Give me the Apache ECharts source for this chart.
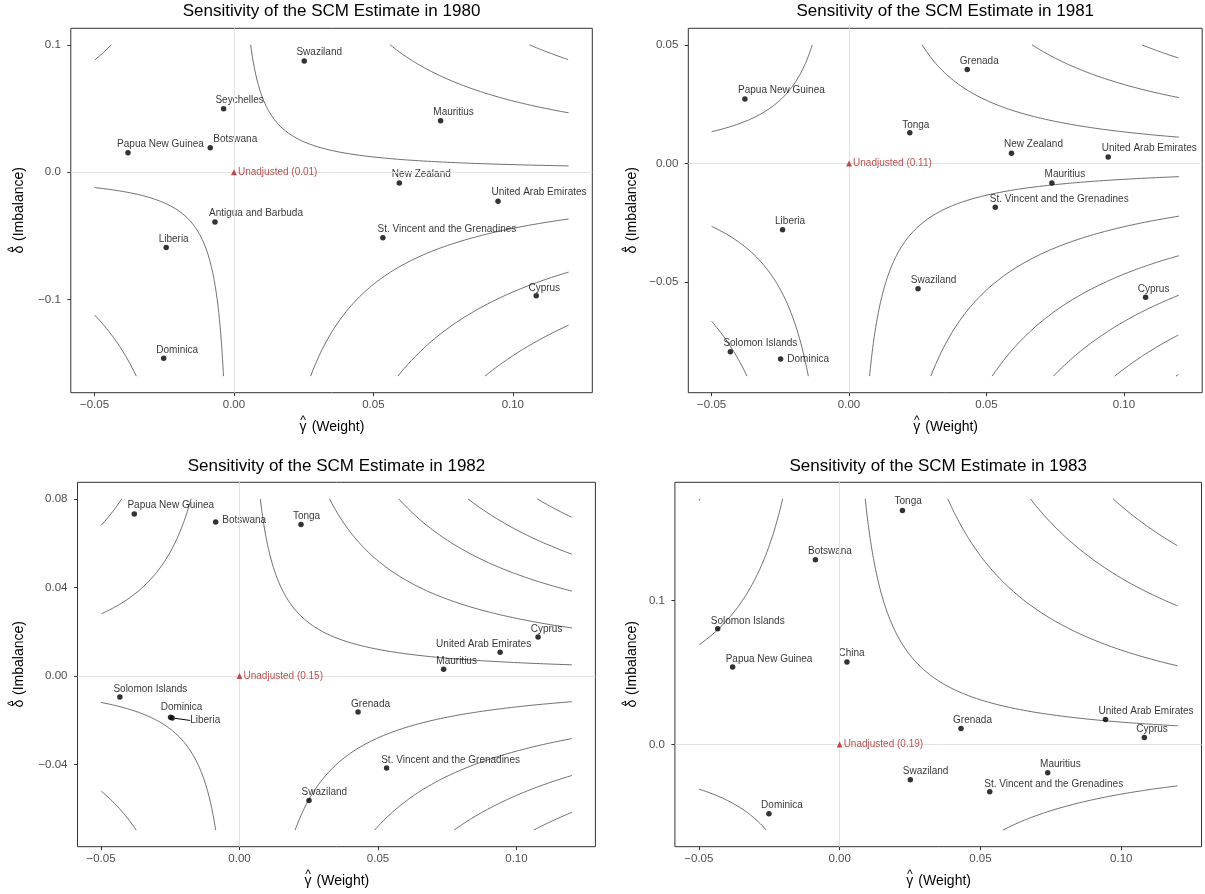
<!DOCTYPE html>
<html>
<head>
<meta charset="utf-8">
<title>Sensitivity of the SCM Estimate</title>
<script src="https://cdn.jsdelivr.net/npm/echarts@6/dist/echarts.min.js"></script>
<style>
  html, body { margin: 0; padding: 0; background: #fff; }
  #chart { width: 1205px; height: 894px; }
</style>
</head>
<body>
<div id="chart"></div>
<script>
// ---------------- data ----------------
const years = [1980, 1981, 1982, 1983];
const unadjusted = [0.01, 0.11, 0.15, 0.19];

const names1980 = ['Swaziland', 'Seychelles', 'Mauritius', 'Papua New Guinea', 'Botswana', 'New Zealand',
  'United Arab Emirates', 'Antigua and Barbuda', 'St. Vincent and the Grenadines', 'Liberia', 'Cyprus', 'Dominica'];
const weight1980 = [0.0252, -0.0037, 0.0741, -0.0380, -0.0085, 0.0593, 0.0947, -0.0068, 0.0534, -0.0243, 0.1084, -0.0252];
const imbalance1980 = [0.0873, 0.0499, 0.0405, 0.0154, 0.0193, -0.0084, -0.0227, -0.0390, -0.0513, -0.0591, -0.0970, -0.1459];

const names1981 = ['Grenada', 'Papua New Guinea', 'Tonga', 'New Zealand', 'United Arab Emirates', 'Mauritius',
  'St. Vincent and the Grenadines', 'Liberia', 'Swaziland', 'Cyprus', 'Solomon Islands', 'Dominica'];
const weight1981 = [0.0430, -0.0379, 0.0221, 0.0591, 0.0943, 0.0738, 0.0532, -0.0242, 0.0251, 0.1079, -0.0432, -0.0249];
const imbalance1981 = [0.0396, 0.0272, 0.0129, 0.0043, 0.0027, -0.0083, -0.0185, -0.0280, -0.0528, -0.0564, -0.0794, -0.0825];

const names1982 = ['Papua New Guinea', 'Botswana', 'Tonga', 'Cyprus', 'United Arab Emirates', 'Mauritius',
  'Solomon Islands', 'Dominica', 'Liberia', 'Grenada', 'St. Vincent and the Grenadines', 'Swaziland'];
const weight1982 = [-0.0380, -0.0086, 0.0222, 0.1078, 0.0941, 0.0737, -0.0432, -0.0249, -0.0243, 0.0428, 0.0531, 0.0251];
const imbalance1982 = [0.0732, 0.0696, 0.0684, 0.0176, 0.0107, 0.0030, -0.0095, -0.0187, -0.0190, -0.0163, -0.0416, -0.0563];

const names1983 = ['Tonga', 'Botswana', 'Solomon Islands', 'Papua New Guinea', 'China', 'United Arab Emirates',
  'Grenada', 'Cyprus', 'Mauritius', 'Swaziland', 'St. Vincent and the Grenadines', 'Dominica'];
const weight1983 = [0.0223, -0.0086, -0.0433, -0.0380, 0.0026, 0.0944, 0.0431, 0.1082, 0.0739, 0.0251, 0.0533, -0.0251];
const imbalance1983 = [0.1625, 0.1282, 0.0803, 0.0537, 0.0572, 0.0174, 0.0111, 0.0049, -0.0197, -0.0245, -0.0329, -0.0481];

// contour levels of weight x imbalance, and the grid each contour set is traced over
const weightRange = [-0.05, 0.12];
const contourLevels1980 = [-0.0144, -0.0094, -0.0044, 0.0006, 0.0056, 0.0106];
const contourLevels1981 = [-0.01067, -0.00867, -0.00667, -0.00467, -0.00267, -0.00067, 0.00133, 0.00333, 0.00533];
const contourLevels1982 = [-0.0074, -0.0054, -0.0034, -0.0014, 0.0006, 0.0026, 0.0046, 0.0066, 0.0086];
const contourLevels1983 = [-0.00845, -0.00345, 0.00155, 0.00655, 0.01155, 0.01655];
const imbalanceRange1980 = [-0.16, 0.1];
const imbalanceRange1981 = [-0.0897, 0.05];
const imbalanceRange1982 = [-0.0697, 0.08];
const imbalanceRange1983 = [-0.0595, 0.1705];

// tick labels
const xTicks = [-0.05, 0, 0.05, 0.10];
const yTicks1980 = [-0.1, 0, 0.1];
const yTicks1981 = [-0.05, 0, 0.05];
const yTicks1982 = [-0.04, 0, 0.04, 0.08];
const yTicks1983 = [0, 0.1];
const yDecimals = [1, 2, 2, 1];

// ---------------- layout ----------------
const FONT = '"Liberation Sans", Arial, Helvetica, sans-serif';
const panelBoxes = [
  { left: 70.8,  top: 28.3,  width: 521.5, height: 364.4, yNameGap: 46.8, titleTop: 2.5 },
  { left: 688.3, top: 28.3,  width: 513.9, height: 364.4, yNameGap: 50.8, titleTop: 2.5 },
  { left: 77.5,  top: 482.3, width: 517.9, height: 364.4, yNameGap: 53.5, titleTop: 457.5 },
  { left: 674.9, top: 482.3, width: 526.6, height: 364.4, yNameGap: 37.4, titleTop: 457.5 }
];

// label nudges (px) from each point to its label centre
const labelNudge = [
  { 'Swaziland': [15, -8.5], 'Seychelles': [16, -8.5], 'Mauritius': [13, -8.5], 'Papua New Guinea': [32.5, -8.5],
    'Botswana': [25, -8.5], 'New Zealand': [22, -8.5], 'United Arab Emirates': [41, -8.5],
    'Antigua and Barbuda': [41, -8.5], 'St. Vincent and the Grenadines': [64, -8.5], 'Liberia': [7.5, -8.5],
    'Cyprus': [8, -7.5], 'Dominica': [13.5, -8] },
  { 'Grenada': [12, -8.5], 'Papua New Guinea': [36.5, -8.5], 'Tonga': [6, -8], 'New Zealand': [22, -8.5],
    'United Arab Emirates': [41, -8.5], 'Mauritius': [13, -8.5], 'St. Vincent and the Grenadines': [64, -8],
    'Liberia': [7.5, -8.5], 'Swaziland': [15.5, -8.5], 'Cyprus': [8, -8.3], 'Solomon Islands': [30, -8],
    'Dominica': [27.5, 0] },
  { 'Papua New Guinea': [36.5, -8.5], 'Botswana': [28.5, -1.5], 'Tonga': [5.5, -8.3], 'Cyprus': [8.5, -7.7],
    'United Arab Emirates': [-16.5, -8.3], 'Mauritius': [13, -8], 'Solomon Islands': [30.5, -8],
    'Dominica': [11, -9.6], 'Liberia': [33, 2.5], 'Grenada': [12.5, -8],
    'St. Vincent and the Grenadines': [64, -8], 'Swaziland': [15.3, -8.7] },
  { 'Tonga': [5.7, -8.7], 'Botswana': [14.5, -8.3], 'Solomon Islands': [30, -8], 'Papua New Guinea': [36.4, -8.3],
    'China': [4.6, -8.7], 'United Arab Emirates': [40.6, -7.7], 'Grenada': [11.5, -8], 'Cyprus': [7.7, -7.7],
    'Mauritius': [12.6, -8.3], 'Swaziland': [15.3, -8], 'St. Vincent and the Grenadines': [64, -8],
    'Dominica': [13, -8] }
];
// labels joined to their point by a short segment
const linkedLabels = [[], [], ['Liberia'], []];

const panels = [
  { names: names1980, weight: weight1980, imbalance: imbalance1980, levels: contourLevels1980, yRange: imbalanceRange1980, yTicks: yTicks1980 },
  { names: names1981, weight: weight1981, imbalance: imbalance1981, levels: contourLevels1981, yRange: imbalanceRange1981, yTicks: yTicks1981 },
  { names: names1982, weight: weight1982, imbalance: imbalance1982, levels: contourLevels1982, yRange: imbalanceRange1982, yTicks: yTicks1982 },
  { names: names1983, weight: weight1983, imbalance: imbalance1983, levels: contourLevels1983, yRange: imbalanceRange1983, yTicks: yTicks1983 }
];

// ---------------- helpers ----------------
function fmt(v, d) {
  const s = Math.abs(v).toFixed(d);
  return (v < -1e-12 ? '\u2212' : '') + s;
}
function expand(r) {
  const pad = 0.05 * (r[1] - r[0]);
  return [r[0] - pad, r[1] + pad];
}
// trace the level set weight * imbalance = k over the grid: one branch per sign of weight
function levelBranches(k, xr, yr) {
  const out = [];
  const a = Math.abs(k);
  [1, -1].forEach(sx => {
    const sy = Math.sign(k) * sx;
    const xMax = sx > 0 ? xr[1] : -xr[0];
    const yMax = sy > 0 ? yr[1] : -yr[0];
    const xMin = a / yMax;
    if (xMin >= xMax) return;
    const N = 160;
    const pts = [];
    for (let i = 0; i <= N; i++) {
      const u = xMin + (xMax - xMin) * i / N;
      pts.push([u, a / u]);
      const v = a / xMax + (yMax - a / xMax) * i / N;
      pts.push([a / v, v]);
    }
    pts.sort((p, q) => p[0] - q[0]);
    out.push(pts.map(p => [sx * p[0], sy * p[1]]));
  });
  return out;
}
// axis title: a Greek letter with a hat above it, followed by a word in parentheses
function hatTitle(letter, rest, restWidth) {
  return {
    text: '{hat|^}{pad|}\n{sym|' + letter + '}{word|' + rest + '}',
    rich: {
      hat: { width: 9, align: 'center', fontSize: 12, lineHeight: 2, fontFamily: FONT, color: '#000' },
      pad: { width: restWidth, lineHeight: 2 },
      sym: { width: 9, align: 'center', fontSize: 14, lineHeight: 10, fontFamily: FONT, color: '#000' },
      word: { width: restWidth, align: 'left', fontSize: 14, lineHeight: 10, fontFamily: FONT, color: '#000' }
    }
  };
}
const xTitle = hatTitle('\u03B3', ' (Weight)', 57);
const yTitle = hatTitle('\u03B4', ' (Imbalance)', 78);

// ---------------- option ----------------
const grid = [], xAxis = [], yAxis = [], series = [], title = [];

panels.forEach((p, idx) => {
  const box = panelBoxes[idx];
  const yr = expand(p.yRange);
  const xr = expand(weightRange);

  grid.push({
    left: box.left, top: box.top, width: box.width, height: box.height,
    show: true, borderColor: '#333', borderWidth: 1, backgroundColor: '#fff'
  });

  title.push({
    text: 'Sensitivity of the SCM Estimate in ' + years[idx],
    left: box.left + box.width / 2, top: box.titleTop, textAlign: 'center', padding: 0,
    textStyle: { fontFamily: FONT, fontSize: 17, fontWeight: 'normal', color: '#000' }
  });

  xAxis.push({
    type: 'value', gridIndex: idx, min: xr[0], max: xr[1],
    axisLine: { show: false, onZero: false },
    axisTick: { show: true, inside: false, length: 3.5, lineStyle: { color: '#333' }, customValues: xTicks },
    axisLabel: { customValues: xTicks, formatter: v => fmt(v, 2), color: '#4d4d4d', fontSize: 11.5, fontFamily: FONT, margin: 6 },
    splitLine: { show: false },
    name: xTitle.text, nameLocation: 'middle', nameGap: 27,
    nameTextStyle: { fontFamily: FONT, fontSize: 14, color: '#000', rich: xTitle.rich }
  });

  yAxis.push({
    type: 'value', gridIndex: idx, min: yr[0], max: yr[1],
    axisLine: { show: false, onZero: false },
    axisTick: { show: true, inside: false, length: 3.5, lineStyle: { color: '#333' }, customValues: p.yTicks },
    axisLabel: { customValues: p.yTicks, formatter: v => fmt(v, yDecimals[idx]), color: '#4d4d4d', fontSize: 11.5, fontFamily: FONT, margin: 10 },
    splitLine: { show: false },
    name: yTitle.text, nameLocation: 'middle', nameGap: box.yNameGap, nameRotate: 90,
    nameTextStyle: { fontFamily: FONT, fontSize: 14, color: '#000', rich: yTitle.rich }
  });

  // reference lines at zero weight and zero imbalance
  series.push({
    type: 'line', xAxisIndex: idx, yAxisIndex: idx, data: [], silent: true, z: 1,
    markLine: {
      silent: true, symbol: 'none', animation: false,
      label: { show: false },
      lineStyle: { color: '#e3e3e3', width: 1, type: 'solid' },
      data: [{ xAxis: 0 }, { yAxis: 0 }]
    }
  });

  // contour lines
  p.levels.forEach(k => {
    levelBranches(k, weightRange, p.yRange).forEach(branch => {
      series.push({
        type: 'line', xAxisIndex: idx, yAxisIndex: idx, data: branch,
        showSymbol: false, symbol: 'none', silent: true, z: 2, clip: true,
        lineStyle: { color: '#5f5f5f', width: 0.9 }
      });
    });
  });

  // donor units
  const nudge = labelNudge[idx];
  const linked = linkedLabels[idx];
  series.push({
    type: 'scatter', xAxisIndex: idx, yAxisIndex: idx, z: 4,
    symbol: 'circle', symbolSize: 5.5, itemStyle: { color: '#000' },
    data: p.names.map((n, i) => {
      const item = { name: n, value: [p.weight[i], p.imbalance[i]] };
      if (linked.indexOf(n) >= 0) item.labelLine = { show: true };
      return item;
    }),
    label: { show: true, position: 'inside', formatter: '{b}', color: '#000', fontSize: 10, fontFamily: FONT },
    labelLine: { show: false, length2: 0, lineStyle: { color: '#000', width: 1 } },
    labelLayout: params => {
      const o = nudge[p.names[params.dataIndex]] || [0, -8];
      return { dx: o[0], dy: o[1] };
    }
  });

  // unadjusted estimate
  series.push({
    type: 'scatter', xAxisIndex: idx, yAxisIndex: idx, z: 5,
    symbol: 'triangle', symbolSize: 6, itemStyle: { color: '#b22222' },
    data: [{ name: 'Unadjusted', value: [0, 0] }],
    label: {
      show: true, position: 'right', distance: 1,
      formatter: 'Unadjusted (' + unadjusted[idx].toFixed(2) + ')',
      color: '#b22222', fontSize: 10, fontFamily: FONT
    }
  });
});

const chart = echarts.init(document.getElementById('chart'), null, { renderer: 'canvas' });
chart.setOption({
  backgroundColor: '#fff',
  animation: false,
  title, grid, xAxis, yAxis, series
});
</script>
</body>
</html>
